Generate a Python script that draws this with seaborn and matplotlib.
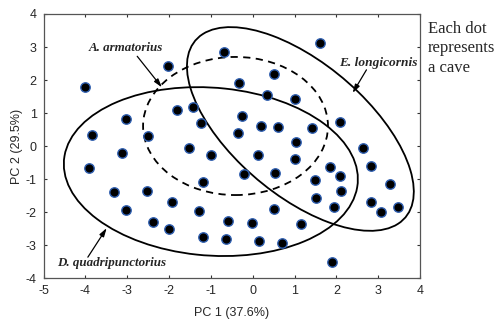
import matplotlib
matplotlib.use("Agg")
import matplotlib.pyplot as plt
from matplotlib.patches import Ellipse
import seaborn as sns
import pandas as pd

# PCA scores, one point per cave
pc1 = [-4.01, -3.84, -3.03, -2.50, -2.02, -1.81, -1.43, -1.24, -0.69, -0.33,
       -0.26, -0.35, -1.52, -1.00, -3.12, 1.61, 0.51, 0.34, 1.01, 0.20,
       0.61, 1.42, 2.09, 1.04, 2.64, 0.13, 1.01, -3.91, -0.21, 0.53,
       -1.19, 1.85, 2.09, 2.83, 1.49, 2.11, 3.28, 1.51, 1.94, 2.83,
       3.07, 3.47, -3.32, -2.53, -1.93, -3.03, -1.28, 0.51, -2.38, -0.59,
       -0.02, 1.15, -2.00, -1.19, -0.64, 0.15, 0.70, 1.90]
pc2 = [1.79, 0.34, 0.82, 0.31, 2.43, 1.10, 1.19, 0.70, 2.85, 1.91,
       0.91, 0.40, -0.05, -0.27, -0.21, 3.12, 2.19, 1.55, 1.43, 0.61,
       0.58, 0.55, 0.73, 0.13, -0.05, -0.27, -0.39, -0.66, -0.84, -0.81,
       -1.08, -0.63, -0.90, -0.60, -1.02, -1.36, -1.14, -1.57, -1.84, -1.69,
       -1.99, -1.84, -1.39, -1.36, -1.69, -1.93, -1.96, -1.90, -2.29, -2.26,
       -2.32, -2.35, -2.51, -2.75, -2.81, -2.87, -2.93, -3.50]

# Species envelopes in PC space
species = ["D. quadripunctorius", "A. armatorius", "E. longicornis"]
ell_cx = [-1.00, -0.41, 1.14]
ell_cy = [-0.77, 0.61, 0.52]
ell_w = [7.06, 4.42, 3.56]
ell_h = [5.07, 4.18, 7.40]
ell_angle = [-7.7, 0.0, 39.1]
ell_style = ["solid", (0, (4, 3)), "solid"]

# Label text positions and arrow tips
label_x = [-3.38, -3.04, 3.00]
label_y = [-3.54, 2.97, 2.52]
tip_x = [-3.49, -2.17, 2.39]
tip_y = [-2.48, 1.78, 1.61]
tail_x = [-3.94, -2.76, 2.72]
tail_y = [-3.36, 2.72, 2.31]

x_ticks = [-5, -4, -3, -2, -1, 0, 1, 2, 3, 4]
y_ticks = [-4, -3, -2, -1, 0, 1, 2, 3, 4]

sns.set_style("ticks")
plt.rcParams["font.family"] = ["Liberation Sans", "DejaVu Sans"]
plt.rcParams["axes.unicode_minus"] = False

fig = plt.figure(figsize=(4.99, 3.21), dpi=100)
ax = fig.add_axes([0.0872, 0.133, 0.7545, 0.8234])

df = pd.DataFrame({"PC1": pc1, "PC2": pc2})
sns.scatterplot(data=df, x="PC1", y="PC2", ax=ax, s=46, color="black",
                edgecolor="#2f5fb0", linewidth=1.0, zorder=3)

for cx, cy, w, h, a, ls in zip(ell_cx, ell_cy, ell_w, ell_h, ell_angle, ell_style):
    ax.add_patch(Ellipse((cx, cy), w, h, angle=a, fill=False,
                         edgecolor="black", linewidth=1.3, linestyle=ls, zorder=2))

label_size = [9.4, 9.4, 9.6]
for name, lx, ly, tx, ty, sx, sy, fs in zip(species, label_x, label_y,
                                             tip_x, tip_y, tail_x, tail_y,
                                             label_size):
    ax.text(lx, ly, name, ha="center", va="center", fontsize=fs,
            family="Liberation Serif", style="italic", weight="bold", zorder=4)
    ax.annotate("", xy=(tx, ty), xytext=(sx, sy),
                arrowprops=dict(arrowstyle="-|>,head_length=0.5,head_width=0.15",
                                color="black", lw=0.9, shrinkA=0, shrinkB=0),
                zorder=4)

ax.set_xlim(-5, 4)
ax.set_ylim(-4, 4)
ax.set_xticks(x_ticks)
ax.set_yticks(y_ticks)
ax.tick_params(direction="in", length=2.5, width=0.8, labelsize=9,
               top=True, right=True, color="#333333", pad=5)
for sp in ax.spines.values():
    sp.set_color("#555555")
    sp.set_linewidth(0.9)
ax.set_xlabel("PC 1 (37.6%)", fontsize=9, labelpad=7)
ax.set_ylabel("PC 2 (29.5%)", fontsize=9, labelpad=2)

fig.text(0.857, 0.935, "Each dot\nrepresents\na cave", ha="left", va="top",
         fontsize=12, family="Liberation Serif", linespacing=1.3)

fig.savefig("out.png", dpi=100)
